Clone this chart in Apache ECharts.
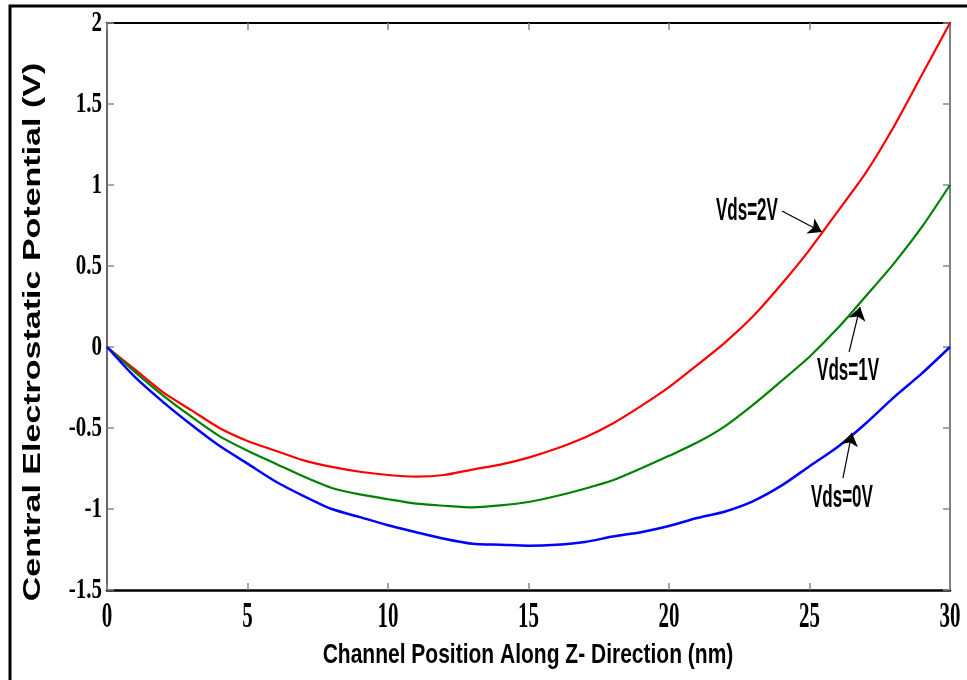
<!DOCTYPE html>
<html>
<head>
<meta charset="utf-8">
<script src="https://cdn.jsdelivr.net/npm/echarts@6/dist/echarts.min.js"></script>
<style>
  html, body { margin: 0; padding: 0; background: #fff; }
  #chart { width: 967px; height: 680px; }
</style>
</head>
<body>
<div id="chart"></div>
<script>
// channel position (nm)
const zPos = [0, 1, 2, 3, 4, 5, 6, 7, 8, 9, 10, 11, 12, 13, 14, 15, 16, 17, 18, 19, 20,
  21, 22, 23, 24, 25, 26, 27, 28, 29, 30];
// central potential (V) for each drain bias
const vds2 = [0, -0.14, -0.28, -0.39, -0.50, -0.58, -0.64, -0.70, -0.74, -0.77, -0.79,
  -0.80, -0.79, -0.757, -0.726, -0.683, -0.627, -0.559, -0.472, -0.365, -0.248,
  -0.112, 0.029, 0.191, 0.387, 0.60, 0.836, 1.075, 1.36, 1.68, 2.0];
const vds1 = [0, -0.155, -0.30, -0.43, -0.55, -0.64, -0.72, -0.80, -0.87, -0.91, -0.94,
  -0.967, -0.98, -0.99, -0.978, -0.957, -0.92, -0.875, -0.823, -0.75, -0.672,
  -0.59, -0.488, -0.356, -0.21, -0.06, 0.115, 0.313, 0.515, 0.741, 1.0];
const vds0 = [0, -0.186, -0.34, -0.48, -0.61, -0.72, -0.83, -0.92, -1.00, -1.05, -1.10,
  -1.143, -1.184, -1.215, -1.221, -1.227, -1.221, -1.204, -1.17, -1.143, -1.105,
  -1.056, -1.015, -0.951, -0.856, -0.736, -0.617, -0.472, -0.311, -0.163, 0];

const xTicks = [0, 5, 10, 15, 20, 25, 30];
const yTicks = [-1.5, -1, -0.5, 0, 0.5, 1, 1.5, 2];

// annotation arrows, in data coordinates
const noteText = ['Vds=2V', 'Vds=1V', 'Vds=0V'];
const noteFrom = [[24.02, 0.84], [26.41, -0.03], [26.19, -0.81]];
const noteTo = [[25.44, 0.71], [26.80, 0.247], [26.51, -0.53]];

const chart = echarts.init(document.getElementById('chart'), null, { renderer: 'canvas' });

const pair = ys => zPos.map((z, i) => [z, ys[i]]);

function axisX(pos, lineColor, lineWidth) {
  return {
    type: 'value', position: pos, min: 0, max: 30, interval: 5,
    axisLine: { onZero: false, lineStyle: { color: lineColor, width: lineWidth } },
    axisTick: { inside: true, length: 7, lineStyle: { color: '#888', width: 1.5 } },
    axisLabel: { show: false },
    splitLine: { show: false }
  };
}
function axisY(pos, lineColor, lineWidth) {
  return {
    type: 'value', position: pos, min: -1.5, max: 2, interval: 0.5,
    axisLine: { onZero: false, lineStyle: { color: lineColor, width: lineWidth } },
    axisTick: { inside: true, length: 7, lineStyle: { color: '#888', width: 1.5 } },
    axisLabel: { show: false },
    splitLine: { show: false }
  };
}

function curve(name, ys, color, width, k) {
  return {
    name: name, type: 'line', data: pair(ys),
    showSymbol: false, smooth: 0.25,
    lineStyle: { color: color, width: width },
    itemStyle: { color: color },
    emphasis: { disabled: true },
    markLine: {
      silent: true,
      symbol: ['none', 'arrow'],
      symbolSize: 13,
      label: { show: false },
      lineStyle: { color: '#000', width: 1.2, type: 'solid' },
      data: [[{ coord: noteFrom[k] }, { coord: noteTo[k] }]]
    }
  };
}

chart.setOption({
  animation: false,
  backgroundColor: '#fff',
  grid: { left: 107, right: 17, top: 23, bottom: 90 },
  xAxis: [axisX('bottom', '#000', 2.5), axisX('top', '#000', 2)],
  yAxis: [axisY('left', '#333', 1.5), axisY('right', '#555', 1.5)],
  series: [
    curve('Vds=2V', vds2, '#ff0000', 2.2, 0),
    curve('Vds=1V', vds1, '#008000', 2.2, 1),
    curve('Vds=0V', vds0, '#0000ff', 2.5, 2)
  ]
});

// text layer: tick labels, axis titles, notes
const px = p => chart.convertToPixel({ gridIndex: 0 }, p);
const serif = '"Liberation Serif", "Times New Roman", serif';
const sans = '"Liberation Sans", Arial, sans-serif';
const g = [];

g.push({
  type: 'rect', silent: true,
  shape: { x: 10, y: 6, width: 1000, height: 700 },
  style: { fill: 'none', stroke: '#000', lineWidth: 3 }
});

xTicks.forEach(v => {
  const p = px([v, -1.5]);
  g.push({
    type: 'text', x: p[0], y: 618, scaleX: 0.6, silent: true,
    style: { text: String(v), fontFamily: serif, fontWeight: 'bold', fontSize: 35,
      fill: '#000', align: 'center', verticalAlign: 'middle' }
  });
});
yTicks.forEach(v => {
  const p = px([0, v]);
  g.push({
    type: 'text', x: 102, y: p[1], scaleX: 0.7, silent: true,
    style: { text: String(v), fontFamily: serif, fontWeight: 'bold', fontSize: 30,
      fill: '#000', align: 'right', verticalAlign: 'middle' }
  });
});

g.push({
  type: 'text', x: 528, y: 655, scaleX: 0.75, silent: true,
  style: { text: 'Channel Position Along Z- Direction (nm)', fontFamily: sans,
    fontWeight: 'bold', fontSize: 28, fill: '#000', align: 'center', verticalAlign: 'middle' }
});
g.push({
  type: 'text', x: 33, y: 332, rotation: Math.PI / 2, scaleY: 0.72, silent: true,
  style: { text: 'Central Electrostatic Potential (V)', fontFamily: sans,
    fontWeight: 'bold', fontSize: 34, fill: '#000', align: 'center', verticalAlign: 'middle' }
});

noteText.forEach((t, i) => {
  const p = px(noteFrom[i]);
  const first = i === 0;
  g.push({
    type: 'text', silent: true,
    x: first ? p[0] - 4 : p[0] - 1,
    y: first ? p[1] + 1 : p[1] + 20,
    scaleX: 0.55,
    style: { text: t, fontFamily: sans, fontWeight: 'bold', fontSize: 31, fill: '#000',
      align: first ? 'right' : 'center', verticalAlign: 'middle' }
  });
});

chart.setOption({ graphic: g });
</script>
</body>
</html>
